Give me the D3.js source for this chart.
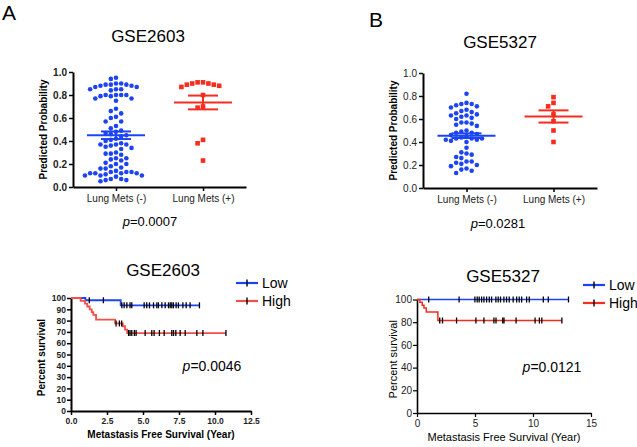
<!DOCTYPE html>
<html>
<head>
<meta charset="utf-8">
<script src="https://cdn.jsdelivr.net/npm/d3@7"></script>
<style>
body { margin: 0; background: #fff; }
text { font-family: "Liberation Sans", Arial, sans-serif; }
</style>
</head>
<body>
<div id="wrapper"></div>
<script>
// ---- data ----
const categories = ["Lung Mets (-)", "Lung Mets (+)"]

const gse2603Neg = [0.95, 0.94, 0.90, 0.90, 0.89, 0.89, 0.89, 0.88, 0.88, 0.87, 0.87, 0.85, 0.85, 0.85, 0.84,
    0.80, 0.80, 0.80, 0.80, 0.79, 0.79, 0.77, 0.77, 0.75, 0.68, 0.66, 0.64, 0.61, 0.60, 0.57, 0.57, 0.53,
    0.51, 0.49, 0.48, 0.47, 0.46, 0.45, 0.44, 0.42, 0.41, 0.40, 0.38, 0.37, 0.37, 0.37, 0.36, 0.35, 0.34,
    0.33, 0.30, 0.29, 0.29, 0.28, 0.25, 0.25, 0.24, 0.23, 0.21, 0.20, 0.20, 0.18, 0.17, 0.16, 0.16,
    0.14, 0.13, 0.13, 0.13, 0.12, 0.12, 0.12, 0.12, 0.11, 0.10, 0.10, 0.10, 0.09, 0.07, 0.07, 0.06, 0.06, 0.05]
const gse2603Pos = [0.91, 0.91, 0.90, 0.90, 0.89, 0.89, 0.88, 0.87, 0.80, 0.70, 0.69, 0.41, 0.38, 0.23]
const gse5327Neg = [0.82, 0.74, 0.73, 0.73, 0.72, 0.71, 0.70, 0.68, 0.67, 0.66, 0.65, 0.64, 0.63, 0.63, 0.62,
    0.61, 0.60, 0.57, 0.57, 0.56, 0.55, 0.54, 0.50, 0.49, 0.48, 0.48, 0.47, 0.46, 0.45, 0.44, 0.43, 0.43,
    0.43, 0.42, 0.42, 0.41, 0.40, 0.35, 0.31, 0.30, 0.29, 0.27, 0.26, 0.23, 0.23, 0.22, 0.21, 0.20, 0.19,
    0.17, 0.16, 0.15, 0.13]
const gse5327Pos = [0.79, 0.74, 0.71, 0.64, 0.58, 0.50, 0.40]

const mean2603 = [0.45, 0.735]
const sem2603 = [0.033, 0.06]
const mean5327 = [0.455, 0.622]
const sem5327 = [0.02, 0.053]

const pScatter = ["0.0007", "0.0281"]
const pSurv = ["0.0046", "0.0121"]
const groups = ["Low", "High"]

// survival curves: [time, percent] step points, end time, censored times
const km2603Low = [[0, 100], [1.0, 98], [3.45, 93.5]]
const km2603LowEnd = 8.92
const km2603LowCens = [1.27, 2.25, 3.53, 3.69, 3.88, 4.1, 4.22, 5.08, 5.26, 5.45, 5.73, 5.96, 6.07, 6.31,
    6.54, 6.77, 6.89, 7.0, 7.11, 7.3, 7.46, 7.77, 8.0, 8.27, 8.92]
const km2603High = [[0, 100], [0.67, 97.5], [0.97, 95], [1.13, 92.5], [1.3, 90], [1.44, 87.5], [1.55, 85],
    [1.74, 80.8], [3.06, 77.5], [3.6, 75], [3.75, 72], [3.9, 69]]
const km2603HighEnd = 10.76
const km2603HighCens = [3.13, 3.36, 3.52, 4.0, 4.1, 4.22, 4.4, 4.52, 5.15, 5.61, 5.77, 6.14, 6.47, 7.0, 7.12,
    7.28, 7.58, 7.93, 8.74, 9.16, 10.76]

const km5327Low = [[0, 100]]
const km5327LowEnd = 13.06
const km5327LowCens = [1.01, 3.63, 4.99, 5.19, 5.36, 5.57, 5.77, 6.0, 6.23, 6.43, 6.8, 7.0, 7.2, 7.49, 7.72,
    7.95, 8.29, 8.59, 8.81, 9.02, 9.45, 9.68, 10.89, 11.32, 13.06]
const km5327High = [[0, 100], [0.25, 97.5], [0.45, 95], [0.6, 92.5], [0.8, 89], [1.8, 81.5]]
const km5327HighEnd = 12.49
const km5327HighCens = [1.96, 2.2, 3.41, 5.08, 5.77, 6.63, 6.81, 7.39, 7.5, 8.54, 10.18, 10.55, 10.76, 12.49]

const blue = "#1d44f2"
const red = "#f42d1f"
const redKM = "#f0504a"

const svg = d3.select("#wrapper").append("svg").attr("width", 637).attr("height", 447)

// panel letters
svg.append("text").attr("x", 2).attr("y", 20).style("font-size", "21px").text("A")
svg.append("text").attr("x", 369).attr("y", 27).style("font-size", "21px").text("B")

function swarm(values, y, r) {
    const placed = []
    values.slice().sort((a, b) => b - a).forEach(v => {
        const py = y(v)
        let dx = 0
        for (let k = 0; k < 60; k++) {
            const off = k === 0 ? 0 : Math.ceil(k / 2) * (k % 2 ? -1 : 1) * r * 2.25
            if (placed.every(p => Math.hypot(p.dx - off, p.py - py) >= r * 2.15)) { dx = off; break }
        }
        placed.push({ v, dx, py })
    })
    return placed
}

function drawScatter(o) {
    const g = svg.append("g")
    const fw = o.bold ? "bold" : "normal"
    const x = d3.scalePoint().domain(categories).range([o.x0, o.x1]).padding(o.pad)
    const y = d3.scaleLinear().domain([0, 1]).range([o.y0, o.y1])

    g.append("text").attr("x", o.titleX).attr("y", o.titleY).attr("text-anchor", "middle")
        .style("font-size", "17px").text(o.title)

    const ya = g.append("g").attr("transform", `translate(${o.x0},0)`)
        .call(d3.axisLeft(y).tickValues([0, 0.2, 0.4, 0.6, 0.8, 1.0]).tickFormat(d3.format(".1f"))
            .tickSize(4).tickSizeOuter(0).tickPadding(2))
    const xa = g.append("g").attr("transform", `translate(0,${o.y0})`)
        .call(d3.axisBottom(x).tickSize(4).tickSizeOuter(0).tickPadding(4))
    ya.select(".domain").attr("stroke-width", 2)
    xa.select(".domain").attr("stroke-width", 2)
    ya.selectAll(".tick line").attr("stroke-width", 1.5)
    xa.selectAll(".tick line").attr("stroke-width", 1.5)
    ya.selectAll("text").style("font-size", "10px").style("font-weight", fw).attr("fill", "#222")
    xa.selectAll("text").style("font-size", "10px").attr("fill", "#222")

    g.append("text").attr("transform", `translate(${o.x0 - 26},${(o.y0 + o.y1) / 2}) rotate(-90)`)
        .attr("text-anchor", "middle").style("font-size", "10px").style("font-weight", "bold")
        .text("Predicted Probability")

    // blue circles
    g.selectAll(".neg").data(swarm(o.neg, y, 2.3)).join("circle")
        .attr("cx", d => x(categories[0]) + d.dx).attr("cy", d => d.py).attr("r", 2.3).attr("fill", blue)
    // red squares
    g.selectAll(".pos").data(swarm(o.pos, y, 2.4)).join("rect")
        .attr("x", d => x(categories[1]) + d.dx - 2.3).attr("y", d => d.py - 2.3)
        .attr("width", 4.6).attr("height", 4.6).attr("fill", red)

    // mean and SEM
    categories.forEach((c, i) => {
        const col = i === 0 ? blue : red
        const cx = x(c)
        const m = o.mean[i], s = o.sem[i]
        g.append("line").attr("x1", cx - 29).attr("x2", cx + 29).attr("y1", y(m)).attr("y2", y(m))
            .attr("stroke", col).attr("stroke-width", 2)
        ;[m - s, m + s].forEach(v => {
            g.append("line").attr("x1", cx - 15).attr("x2", cx + 15).attr("y1", y(v)).attr("y2", y(v))
                .attr("stroke", col).attr("stroke-width", 2)
        })
        g.append("line").attr("x1", cx).attr("x2", cx).attr("y1", y(m - s)).attr("y2", y(m + s))
            .attr("stroke", col).attr("stroke-width", 2)
    })

    const pt = g.append("text").attr("x", o.pX).attr("y", o.pY).attr("text-anchor", "middle").style("font-size", "13px")
    pt.append("tspan").style("font-style", "italic").text("p")
    pt.append("tspan").text("=" + o.p)
}

function drawKM(o) {
    const g = svg.append("g")
    const fw = o.bold ? "bold" : "normal"
    const x = d3.scaleLinear().domain([0, o.xMax]).range([o.x0, o.x1])
    const y = d3.scaleLinear().domain([0, 100]).range([o.y0, o.y1])

    g.append("text").attr("x", o.titleX).attr("y", o.titleY).attr("text-anchor", "middle")
        .style("font-size", "17px").text(o.title)

    const ya = g.append("g").attr("transform", `translate(${o.x0},0)`)
        .call(d3.axisLeft(y).tickValues(d3.range(0, 101, o.yStep)).tickSize(4).tickSizeOuter(0).tickPadding(1))
    const xa = g.append("g").attr("transform", `translate(0,${o.y0})`)
        .call(d3.axisBottom(x).tickValues(d3.range(0, o.xMax + 0.01, o.xStep)).tickFormat(d3.format(o.xFmt))
            .tickSize(4).tickSizeOuter(0).tickPadding(3))
    ;[ya, xa].forEach(a => {
        a.select(".domain").attr("stroke-width", o.bold ? 2 : 1.6)
        a.selectAll(".tick line").attr("stroke-width", o.bold ? 1.5 : 1.2)
        a.selectAll("text").style("font-size", o.bold ? "8.5px" : "10px").style("font-weight", fw).attr("fill", "#222")
    })

    g.append("text").attr("transform", `translate(${o.yTitleX},${(o.y0 + o.y1) / 2 + 3}) rotate(-90)`)
        .attr("text-anchor", "middle").style("font-size", o.bold ? "10px" : "11px").style("font-weight", fw)
        .text("Percent survival")
    g.append("text").attr("x", (o.x0 + o.x1) / 2).attr("y", o.xTitleY).attr("text-anchor", "middle")
        .style("font-size", o.bold ? "10px" : "11px").style("font-weight", fw)
        .text("Metastasis Free Survival (Year)")

    const line = d3.line().x(d => x(d[0])).y(d => y(d[1])).curve(d3.curveStepAfter)
    o.curves.forEach(c => {
        const pts = c.steps.concat([[c.end, c.steps[c.steps.length - 1][1]]])
        g.append("path").attr("d", line(pts)).attr("fill", "none").attr("stroke", c.color)
            .attr("stroke-width", o.lineW)
        const survAt = t => {
            let v = 100
            c.steps.forEach(s => { if (s[0] <= t) v = s[1] })
            return v
        }
        g.selectAll(null).data(c.cens).join("line")
            .attr("x1", d => x(d)).attr("x2", d => x(d))
            .attr("y1", d => y(survAt(d)) - 3).attr("y2", d => y(survAt(d)) + 3)
            .attr("stroke", "#000").attr("stroke-width", 1.3)
    })

    // legend
    groups.forEach((name, i) => {
        const ly = o.legY + i * o.legGap
        const col = o.curves[i].color
        g.append("line").attr("x1", o.legX).attr("x2", o.legX + 22).attr("y1", ly).attr("y2", ly)
            .attr("stroke", col).attr("stroke-width", 2.2)
        g.append("line").attr("x1", o.legX + 11).attr("x2", o.legX + 11).attr("y1", ly - 3.5).attr("y2", ly + 3.5)
            .attr("stroke", "#000").attr("stroke-width", 1.4)
        g.append("text").attr("x", o.legX + 26).attr("y", ly + 5).style("font-size", "14px").text(name)
    })

    const pt = g.append("text").attr("x", o.pX).attr("y", o.pY).attr("text-anchor", "middle").style("font-size", "14px")
    pt.append("tspan").style("font-style", "italic").text("p")
    pt.append("tspan").text("=" + o.p)
}

drawScatter({
    title: "GSE2603", titleX: 148, titleY: 42, bold: true,
    x0: 73, x1: 246, pad: 0.494, y0: 187, y1: 72,
    neg: gse2603Neg, pos: gse2603Pos, mean: mean2603, sem: sem2603,
    p: pScatter[0], pX: 150, pY: 226
})
drawScatter({
    title: "GSE5327", titleX: 500, titleY: 48, bold: false,
    x0: 423, x1: 597, pad: 0.5, y0: 188, y1: 73,
    neg: gse5327Neg, pos: gse5327Pos, mean: mean5327, sem: sem5327,
    p: pScatter[1], pX: 498, pY: 228
})
drawKM({
    title: "GSE2603", titleX: 163, titleY: 276, bold: true,
    x0: 71, x1: 251, xMax: 12.5, xStep: 2.5, xFmt: ".1f", y0: 411, y1: 298, yStep: 10,
    yTitleX: 45, xTitleY: 438, lineW: 1.8,
    curves: [
        { steps: km2603Low, end: km2603LowEnd, cens: km2603LowCens, color: blue },
        { steps: km2603High, end: km2603HighEnd, cens: km2603HighCens, color: redKM }
    ],
    legX: 236, legY: 283, legGap: 18, p: pSurv[0], pX: 212, pY: 371
})
drawKM({
    title: "GSE5327", titleX: 503, titleY: 282, bold: false,
    x0: 417, x1: 591, xMax: 15, xStep: 5, xFmt: "d", y0: 413, y1: 299.5, yStep: 20,
    yTitleX: 397, xTitleY: 441, lineW: 1.5,
    curves: [
        { steps: km5327Low, end: km5327LowEnd, cens: km5327LowCens, color: blue },
        { steps: km5327High, end: km5327HighEnd, cens: km5327HighCens, color: red }
    ],
    legX: 583, legY: 285, legGap: 18, p: pSurv[1], pX: 552, pY: 372
})
</script>
</body>
</html>
